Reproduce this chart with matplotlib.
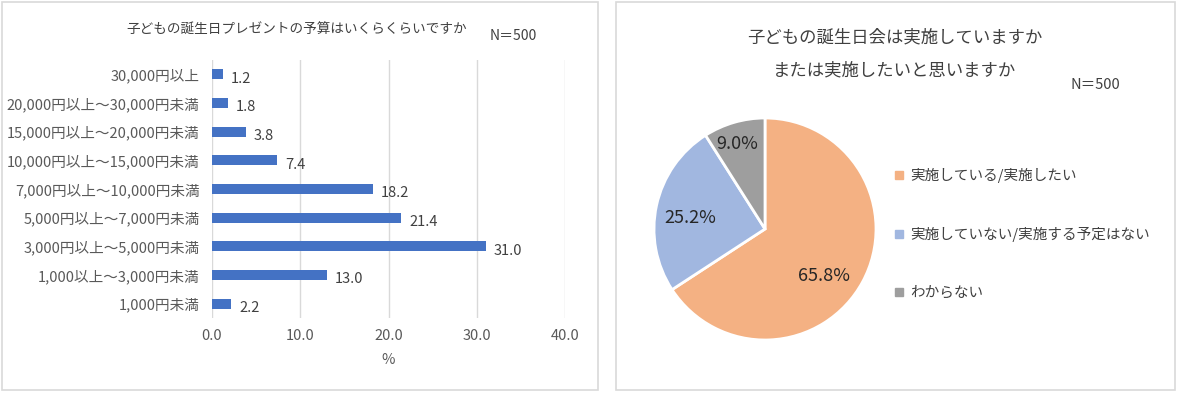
import numpy as np
import matplotlib

matplotlib.use("Agg")
import matplotlib.pyplot as plt
from matplotlib.patches import Rectangle
from matplotlib.lines import Line2D

plt.rcParams["font.family"] = ["Noto Sans CJK JP", "DejaVu Sans"]

# ---------------------------------------------------------------- data
budget_title = "子どもの誕生日プレゼントの予算はいくらくらいですか"
budget_labels = [
    "30,000円以上",
    "20,000円以上～30,000円未満",
    "15,000円以上～20,000円未満",
    "10,000円以上～15,000円未満",
    "7,000円以上～10,000円未満",
    "5,000円以上～7,000円未満",
    "3,000円以上～5,000円未満",
    "1,000以上～3,000円未満",
    "1,000円未満",
]
budget_values = [1.2, 1.8, 3.8, 7.4, 18.2, 21.4, 31.0, 13.0, 2.2]
budget_ticks = [0, 10, 20, 30, 40]

party_title = "子どもの誕生日会は実施していますか\nまたは実施したいと思いますか"
party_labels = ["実施している/実施したい", "実施していない/実施する予定はない", "わからない"]
party_values = [65.8, 25.2, 9.0]
sample_note = "N＝500"

# ---------------------------------------------------------------- style
W, H = 1177, 393
BAR = "#4472C4"
PIE_COLORS = ["#F4B183", "#A1B7E0", "#9E9E9E"]
TXT = "#404040"
TICK = "#595959"
GRID = "#D9D9D9"
# where each percentage sits: fraction of radius, turn from mid-angle (deg)
LABEL_DIST = [0.68, 0.68, 0.81]
LABEL_TURN = [-10, 4, 2]


def fx(px):
    return px / W


def fy(py):
    return 1 - py / H


fig = plt.figure(figsize=(W / 100, H / 100), dpi=100)
fig.patch.set_facecolor("white")

# panel frames
for x0, x1 in [(2, 598), (616, 1175)]:
    fig.patches.append(Rectangle((fx(x0), fy(390)), fx(x1 - x0), (390 - 2) / H,
                                 transform=fig.transFigure, fill=False,
                                 edgecolor=GRID, lw=1.2))

# ---------------------------------------------------------------- bar chart
ax = fig.add_axes([fx(212), fy(318), fx(565 - 212), (318 - 60) / H])
ypos = np.arange(len(budget_values))
ax.barh(ypos, budget_values, height=0.36, color=BAR, zorder=3)
ax.set_ylim(len(budget_values) - 0.5, -0.5)
ax.set_xlim(0, 40)
ax.set_xticks(budget_ticks)
ax.set_xticklabels([f"{t:.1f}" for t in budget_ticks])
ax.set_yticks(ypos)
ax.set_yticklabels(budget_labels)
ax.tick_params(axis="both", length=0, labelsize=10.5, colors=TICK)
ax.tick_params(axis="x", pad=8)
ax.tick_params(axis="y", pad=9)
ax.xaxis.grid(True, color=GRID, lw=1, zorder=0)
for s in ax.spines.values():
    s.set_visible(False)
ax.set_xlabel("%", fontsize=10.5, color=TICK, labelpad=7)
for y, v in zip(ypos, budget_values):
    ax.annotate(f"{v:.1f}", (v, y), xytext=(6, -3), textcoords="offset points",
                ha="left", va="center", fontsize=10.5, color=TXT)

fig.text(fx(297), fy(30), budget_title, ha="center", va="center",
         fontsize=9.8, color=TXT)
fig.text(fx(490), fy(36), sample_note, ha="left", va="center",
         fontsize=10, color=TXT)

# ---------------------------------------------------------------- pie chart
cx, cy, r = 765, 229, 111
half = 1.25 * r
pax = fig.add_axes([fx(cx - half), fy(cy + half), fx(2 * half), 2 * half / H])
wedges, _ = pax.pie(
    party_values, colors=PIE_COLORS, startangle=90, counterclock=False,
    wedgeprops=dict(edgecolor="white", linewidth=2))
pax.set_xlim(-1.25, 1.25)
pax.set_ylim(-1.25, 1.25)
pax.set_aspect("equal")
for w, v, d, t in zip(wedges, party_values, LABEL_DIST, LABEL_TURN):
    ang = np.deg2rad((w.theta1 + w.theta2) / 2 + t)
    pax.text(d * np.cos(ang), d * np.sin(ang), f"{v:.1f}%", ha="center",
             va="center", fontsize=13, color="#262626")

lines = party_title.split("\n")
fig.text(fx(895), fy(37), lines[0], ha="center", va="center",
         fontsize=12.5, color=TXT)
fig.text(fx(895), fy(70), lines[1], ha="center", va="center",
         fontsize=12.5, color=TXT)
fig.text(fx(1071), fy(85), sample_note, ha="left", va="center",
         fontsize=10.5, color=TXT)

handles = [Line2D([], [], marker="s", ls="none", markersize=6, color=c)
           for c in PIE_COLORS]
fig.legend(handles, party_labels, loc="upper left",
           bbox_to_anchor=(fx(893), fy(168)), frameon=False, fontsize=10.5,
           labelcolor=TXT, labelspacing=3.0, handlelength=0.8,
           handletextpad=0.4, borderpad=0, borderaxespad=0)

fig.savefig("out.png", dpi=100, facecolor="white")
